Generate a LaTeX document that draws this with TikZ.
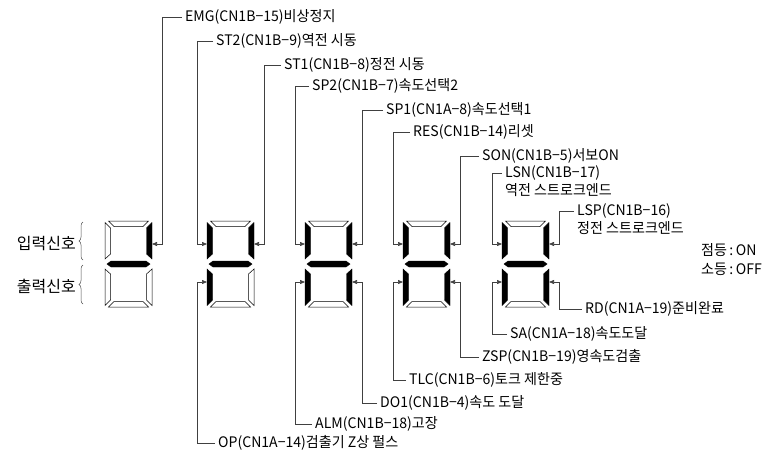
\documentclass[tikz,border=0pt]{standalone}
\usepackage{fontspec}
\setmainfont{Noto Sans CJK KR}[FakeStretch=0.97]
\newfontfamily\bigkr{Noto Sans CJK KR}
\usetikzlibrary{arrows.meta,decorations.pathreplacing}

\tikzset{
  segon/.style={fill=black, draw=black, line width=0.4pt},
  segoff/.style={fill=white, draw=black, line width=0.5pt},
  lead/.style={draw=black!75, line width=0.6pt, -{Triangle[length=5pt,width=4pt]}},
  lbl/.style={anchor=west, inner sep=3pt, font=\fontsize{14.5}{17}\selectfont},
  side/.style={anchor=east, inner sep=0pt, font=\bigkr\fontsize{16}{18}\selectfont},
  curly/.style={draw=black!70, line width=0.5pt, decorate, decoration={brace, amplitude=4pt}},
}

% one digit: name, left x, then segments a (top) .. g (middle)
\newcommand{\sevenseg}[9]{%
\begin{scope}[shift={(#2,221)}]
  \path[#3] (3.5,0) -- (43.5,0) -- (38,5.5) -- (9,5.5) -- cycle;
  \path[#4] (47,1.5) -- (41.5,7) -- (41.5,33) -- (47,38) -- cycle;
  \path[#5] (47,48) -- (41.5,53) -- (41.5,79) -- (47,84.5) -- cycle;
  \path[#6] (3.5,86) -- (43.5,86) -- (38,80.5) -- (9,80.5) -- cycle;
  \path[#7] (0,48) -- (5.5,53) -- (5.5,79) -- (0,84.5) -- cycle;
  \path[#8] (0,1.5) -- (5.5,7) -- (5.5,33) -- (0,38) -- cycle;
  \path[#9] (2,43) -- (6,40) -- (41,40) -- (45,43) -- (41,46) -- (6,46) -- cycle;
  \coordinate (#1-b) at (47,23);  \coordinate (#1-bx) at (57,23);
  \coordinate (#1-c) at (47,61);  \coordinate (#1-cx) at (57,61);
  \coordinate (#1-e) at (0,61);   \coordinate (#1-ex) at (-10,61);
  \coordinate (#1-f) at (0,23);   \coordinate (#1-fx) at (-10,23);
\end{scope}}

\begin{document}
\begin{tikzpicture}[x=1pt, y=-1pt]
\useasboundingbox (0,0) rectangle (773,458);

% digits
\sevenseg{d1}{105}{segoff}{segon}{segoff}{segoff}{segoff}{segoff}{segon}
\sevenseg{d2}{207}{segoff}{segon}{segoff}{segoff}{segon}{segon}{segon}
\sevenseg{d3}{305}{segoff}{segon}{segon}{segoff}{segon}{segon}{segon}
\sevenseg{d4}{403}{segoff}{segon}{segon}{segoff}{segon}{segon}{segon}
\sevenseg{d5}{502}{segoff}{segon}{segon}{segoff}{segon}{segon}{segon}

% left side
\node[side] (inp) at (76,244) {입력신호};
\node[side] (outp) at (76,286) {출력신호};
\draw[curly] (83,260) -- (83,222);
\draw[curly] (83,304) -- (83,265);

% input signals
\node[lbl] (emg) at (182,17) {EMG(CN1B−15)비상정지};
\node[lbl] (st2) at (213,41) {ST2(CN1B−9)역전 시동};
\node[lbl] (st1) at (281,65) {ST1(CN1B−8)정전 시동};
\node[lbl] (sp2) at (309,86) {SP2(CN1B−7)속도선택2};
\node[lbl] (sp1) at (383,110) {SP1(CN1A−8)속도선택1};
\node[lbl] (res) at (410,132) {RES(CN1B−14)리셋};
\node[lbl] (son) at (479,156) {SON(CN1B−5)서보ON};
\node[lbl] (lsn) at (502,173) {LSN(CN1B−17)};
\node[lbl] (lsnb) at (502,190) {역전 스트로크엔드};
\node[lbl] (lsp) at (574,211) {LSP(CN1B−16)};
\node[lbl] (lspb) at (574,228) {정전 스트로크엔드};

% output signals
\node[lbl] (rd) at (582,309) {RD(CN1A−19)준비완료};
\node[lbl] (sa) at (507,334) {SA(CN1A−18)속도도달};
\node[lbl] (zsp) at (479,357) {ZSP(CN1B−19)영속도검출};
\node[lbl] (tlc) at (406,380) {TLC(CN1B−6)토크 제한중};
\node[lbl] (do1) at (377,403) {DO1(CN1B−4)속도 도달};
\node[lbl] (alm) at (312,424) {ALM(CN1B−18)고장};
\node[lbl] (op) at (215,443) {OP(CN1A−14)검출기 Z상 펄스};

% legend
\node[lbl] (lit) at (698,250) {점등\,:\,ON};
\node[lbl] (unlit) at (698,269) {소등\,:\,OFF};

% leaders
\draw[lead] (emg.west) -| (d1-bx) -- (d1-b);
\draw[lead] (st2.west) -| (d2-fx) -- (d2-f);
\draw[lead] (st1.west) -| (d2-bx) -- (d2-b);
\draw[lead] (sp2.west) -| (d3-fx) -- (d3-f);
\draw[lead] (sp1.west) -| (d3-bx) -- (d3-b);
\draw[lead] (res.west) -| (d4-fx) -- (d4-f);
\draw[lead] (son.west) -| (d4-bx) -- (d4-b);
\draw[lead] (lsn.west) -| (d5-fx) -- (d5-f);
\draw[lead] (lsp.west) -| (d5-bx) -- (d5-b);
\draw[lead] (rd.west) -| (d5-cx) -- (d5-c);
\draw[lead] (sa.west) -| (d5-ex) -- (d5-e);
\draw[lead] (zsp.west) -| (d4-cx) -- (d4-c);
\draw[lead] (tlc.west) -| (d4-ex) -- (d4-e);
\draw[lead] (do1.west) -| (d3-cx) -- (d3-c);
\draw[lead] (alm.west) -| (d3-ex) -- (d3-e);
\draw[lead] (op.west) -| (d2-ex) -- (d2-e);
\end{tikzpicture}
\end{document}
